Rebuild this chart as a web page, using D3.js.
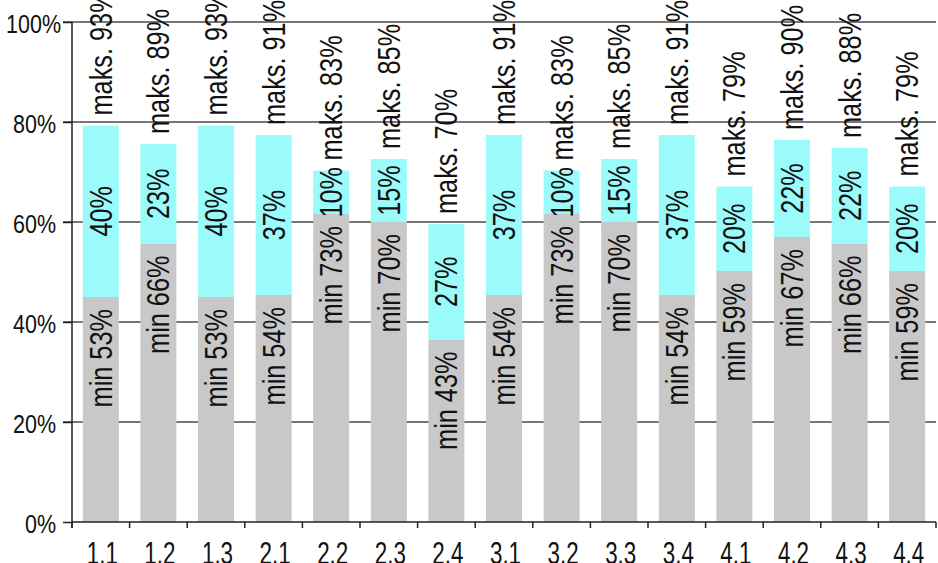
<!DOCTYPE html>
<html>
<head>
<meta charset="utf-8">
<script src="https://cdn.jsdelivr.net/npm/d3@7"></script>
<style>
  body { margin: 0; background: #fff; }
  svg text { font-family: "Liberation Sans", Arial, sans-serif; fill: #111; }
</style>
</head>
<body>
<svg id="chart" width="938" height="563"></svg>
<script>
// categories
const categories = ["1.1","1.2","1.3","2.1","2.2","2.3","2.4","3.1","3.2","3.3","3.4","4.1","4.2","4.3","4.4"];

// bar heights as drawn (percent of axis)
const minBar = [45, 55.7, 45, 45.4, 61.6, 60, 36.5, 45.4, 61.6, 60, 45.4, 50.2, 57, 55.7, 50.2];
const maxBar = [79.3, 75.6, 79.3, 77.4, 70.3, 72.6, 59.6, 77.4, 70.3, 72.6, 77.4, 67.1, 76.4, 74.8, 67.1];

// label values printed on the bars
const minLabel   = [53, 66, 53, 54, 73, 70, 43, 54, 73, 70, 54, 59, 67, 66, 59];
const rangeLabel = [40, 23, 40, 37, 10, 15, 27, 37, 10, 15, 37, 20, 22, 22, 20];
const maxLabel   = [93, 89, 93, 91, 83, 85, 70, 91, 83, 85, 91, 79, 90, 88, 79];

const yTicks = [0, 20, 40, 60, 80, 100];

const svg = d3.select("#chart");
const plotLeft = 72, plotRight = 936, plotTop = 22, plotBottom = 522;

const x = d3.scaleBand()
    .domain(categories)
    .range([plotLeft, plotRight])
    .paddingInner(0.375)
    .paddingOuter(0.1875);

const y = d3.scaleLinear().domain([0, 100]).range([plotBottom, plotTop]);

// gridlines
svg.append("g")
    .selectAll("line")
    .data(yTicks.filter(d => d > 0))
    .enter().append("line")
    .attr("x1", plotLeft - 9)
    .attr("x2", plotRight)
    .attr("y1", d => y(d))
    .attr("y2", d => y(d))
    .style("stroke", "#4a4a4a")
    .style("stroke-width", 1.5);

// bars
const bars = svg.append("g");
bars.selectAll("rect.min")
    .data(categories)
    .enter().append("rect")
    .attr("class", "min")
    .attr("x", d => x(d))
    .attr("width", x.bandwidth())
    .attr("y", (d, i) => y(minBar[i]))
    .attr("height", (d, i) => y(0) - y(minBar[i]))
    .style("fill", "#c8c8c8");

bars.selectAll("rect.range")
    .data(categories)
    .enter().append("rect")
    .attr("class", "range")
    .attr("x", d => x(d))
    .attr("width", x.bandwidth())
    .attr("y", (d, i) => y(maxBar[i]))
    .attr("height", (d, i) => y(minBar[i]) - y(maxBar[i]))
    .style("fill", "#9bfafa");

// y axis
const yAxis = svg.append("g")
    .attr("transform", `translate(${plotLeft},0)`)
    .call(d3.axisLeft(y).tickValues(yTicks).tickSize(9).tickFormat(""));
yAxis.select(".domain").remove();
yAxis.selectAll(".tick line").style("stroke", "#222").style("stroke-width", 1.5);

svg.append("g")
    .selectAll("text")
    .data(yTicks)
    .enter().append("text")
    .attr("transform", d => `translate(${d === 100 ? 61 : 56},${y(d) + 11}) scale(0.86,1)`)
    .attr("text-anchor", "end")
    .style("font-size", "25px")
    .text(d => d + "%");

svg.append("line")
    .attr("x1", plotLeft).attr("x2", plotLeft)
    .attr("y1", plotTop).attr("y2", plotBottom + 6)
    .style("stroke", "#222").style("stroke-width", 1.5);

// x axis
svg.append("line")
    .attr("x1", plotLeft).attr("x2", plotRight)
    .attr("y1", plotBottom).attr("y2", plotBottom)
    .style("stroke", "#222").style("stroke-width", 1.5);

svg.append("g")
    .selectAll("line")
    .data(d3.range(categories.length + 1))
    .enter().append("line")
    .attr("x1", i => plotLeft + i * x.step())
    .attr("x2", i => plotLeft + i * x.step())
    .attr("y1", plotBottom)
    .attr("y2", plotBottom + 6)
    .style("stroke", "#222").style("stroke-width", 1.5);

svg.append("g")
    .selectAll("text")
    .data(categories)
    .enter().append("text")
    .attr("transform", d => `translate(${x(d) + x.bandwidth() / 2 + 1.5},564) scale(0.7,1)`)
    .attr("text-anchor", "middle")
    .style("font-size", "32px")
    .text(d => d);

// rotated bar labels
const labelSize = 30.5;
function vlabel(cx, yPos, anchor, txt) {
    svg.append("text")
        .attr("transform", `translate(${cx + 11},${yPos}) rotate(-90) scale(0.83,1)`)
        .attr("text-anchor", anchor)
        .style("font-size", labelSize + "px")
        .text(txt);
}

categories.forEach((c, i) => {
    const cx = x(c) + x.bandwidth() / 2;
    vlabel(cx, y(minBar[i]) + 12, "end", "min " + minLabel[i] + "%");
    vlabel(cx, (y(minBar[i]) + y(maxBar[i])) / 2, "middle", rangeLabel[i] + "%");
    vlabel(cx, y(maxBar[i]) - 10, "start", "maks. " + maxLabel[i] + "%");
});
</script>
</body>
</html>
